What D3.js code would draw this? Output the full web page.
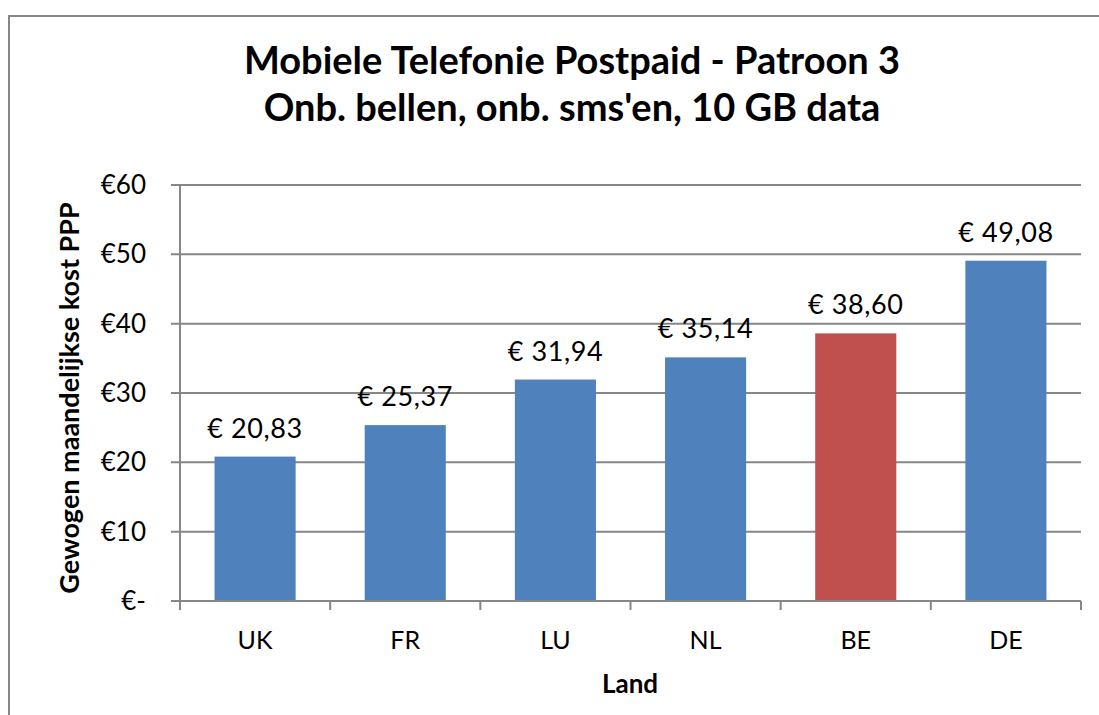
<!DOCTYPE html>
<html>
<head>
<meta charset="utf-8">
<script src="https://cdn.jsdelivr.net/npm/d3@7"></script>
<style>
  body { margin: 0; background: #fff; }
  svg { display: block; font-family: Lato, "Open Sans", sans-serif; }
</style>
</head>
<body>
<script>
// Mobiele telefonie postpaid, patroon 3 — kost per land
const landen = ["UK", "FR", "LU", "NL", "BE", "DE"];
const kosten = [20.83, 25.37, 31.94, 35.14, 38.60, 49.08];
const kleuren = ["#4F81BD", "#4F81BD", "#4F81BD", "#4F81BD", "#C0504D", "#4F81BD"];
const yTicks = [0, 10, 20, 30, 40, 50, 60];

const W = 1099, H = 715;
const ML = 180, MR = 1081, TOP = 185, BOT = 601;
const GRID = "#868686";

const svg = d3.select("body").append("svg").attr("width", W).attr("height", H);

// kader
svg.append("rect")
  .attr("x", 9).attr("y", 16).attr("width", W + 20).attr("height", H + 20)
  .attr("fill", "#fff").attr("stroke", GRID).attr("stroke-width", 2);

const x = d3.scaleBand().domain(landen).range([ML, MR]).paddingInner(0.46).paddingOuter(0.23);
const xb = d3.scaleBand().domain(landen).range([ML, MR]);
const y = d3.scaleLinear().domain([0, 60]).range([BOT, TOP]);

// titel
const title = svg.append("text").attr("text-anchor", "middle")
  .attr("style", "font-weight:700;font-size:38px;fill:#000");
title.append("tspan").attr("x", 572).attr("y", 74).text("Mobiele Telefonie Postpaid - Patroon 3");
title.append("tspan").attr("x", 572).attr("y", 121).text("Onb. bellen, onb. sms'en, 10 GB data");

// rasterlijnen
svg.append("g").selectAll("line").data(yTicks).join("line")
  .attr("x1", ML - 9).attr("x2", MR).attr("y1", d => y(d)).attr("y2", d => y(d))
  .attr("stroke", GRID).attr("stroke-width", 2);

// y-as
svg.append("line").attr("x1", ML).attr("x2", ML).attr("y1", TOP).attr("y2", BOT + 9)
  .attr("stroke", GRID).attr("stroke-width", 2);
svg.append("g").selectAll("text").data(yTicks).join("text")
  .attr("x", 146).attr("y", d => y(d) + 9).attr("text-anchor", "end")
  .attr("style", "font-size:26px;fill:#000")
  .text(d => d === 0 ? "€-" : "€" + d);

// staven
svg.append("g").selectAll("rect").data(landen).join("rect")
  .attr("x", d => x(d)).attr("width", x.bandwidth())
  .attr("y", (d, i) => y(kosten[i])).attr("height", (d, i) => y(0) - y(kosten[i]))
  .attr("fill", (d, i) => kleuren[i]);

// x-as
svg.append("line").attr("x1", ML).attr("x2", MR).attr("y1", BOT).attr("y2", BOT)
  .attr("stroke", GRID).attr("stroke-width", 2);
const xTickPos = landen.map(d => xb(d)).concat([MR]);
svg.append("g").selectAll("line").data(xTickPos).join("line")
  .attr("x1", d => d).attr("x2", d => d).attr("y1", BOT).attr("y2", BOT + 9)
  .attr("stroke", GRID).attr("stroke-width", 2);
svg.append("g").selectAll("text").data(landen).join("text")
  .attr("x", d => xb(d) + xb.bandwidth() / 2).attr("y", 649).attr("text-anchor", "middle")
  .attr("style", "font-size:25px;fill:#000")
  .text(d => d);

// waardelabels
svg.append("g").selectAll("text").data(landen).join("text")
  .attr("x", d => x(d) + x.bandwidth() / 2).attr("y", (d, i) => y(kosten[i]) - 19)
  .attr("text-anchor", "middle")
  .attr("style", "font-size:27px;letter-spacing:0.6px;fill:#000;white-space:pre")
  .text((d, i) => "€ " + kosten[i].toFixed(2).replace(".", ","));

// astitels
svg.append("text").attr("x", 630).attr("y", 693).attr("text-anchor", "middle")
  .attr("style", "font-weight:700;font-size:26px;fill:#000").text("Land");
svg.append("text").attr("transform", "translate(79,398) rotate(-90)").attr("text-anchor", "middle")
  .attr("style", "font-weight:700;font-size:27px;fill:#000").text("Gewogen maandelijkse kost PPP");
</script>
</body>
</html>
